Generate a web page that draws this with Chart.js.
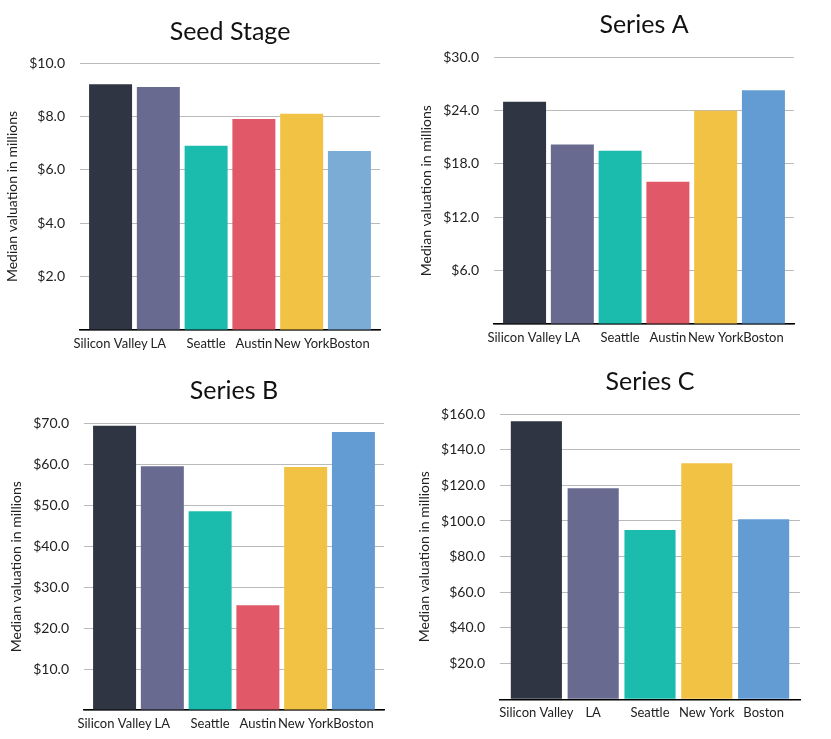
<!DOCTYPE html>
<html>
<head>
<meta charset="utf-8">
<script src="https://cdn.jsdelivr.net/npm/chart.js@4.4.0/dist/chart.umd.min.js"></script>
<style>
  html, body { margin: 0; padding: 0; background: #fff; }
  body { width: 831px; height: 739px; position: relative; overflow: hidden; }
  .box { position: absolute; }
</style>
</head>
<body>
<div class="box" style="left:0;top:0;width:410px;height:360px"><canvas id="c1"></canvas></div>
<div class="box" style="left:410px;top:0;width:421px;height:360px"><canvas id="c2"></canvas></div>
<div class="box" style="left:0;top:360px;width:410px;height:379px"><canvas id="c3"></canvas></div>
<div class="box" style="left:410px;top:360px;width:421px;height:379px"><canvas id="c4"></canvas></div>
<script>
// ---- data ----
const seedCities = ["Silicon Valley", "LA", "Seattle", "Austin", "New York", "Boston"];
const seedValues = [9.2, 9.1, 6.9, 7.9, 8.1, 6.7];
const seedTicks = [2, 4, 6, 8, 10];

const seriesACities = ["Silicon Valley", "LA", "Seattle", "Austin", "New York", "Boston"];
const seriesAValues = [25.0, 20.2, 19.5, 16.0, 24.0, 26.3];
const seriesATicks = [6, 12, 18, 24, 30];

const seriesBCities = ["Silicon Valley", "LA", "Seattle", "Austin", "New York", "Boston"];
const seriesBValues = [69.4, 59.5, 48.5, 25.6, 59.3, 67.9];
const seriesBTicks = [10, 20, 30, 40, 50, 60, 70];

const seriesCCities = ["Silicon Valley", "LA", "Seattle", "New York", "Boston"];
const seriesCValues = [156, 118.4, 95, 132.4, 101];
const seriesCTicks = [20, 40, 60, 80, 100, 120, 140, 160];

// ---- styles ----
const cityColors = {
  "Silicon Valley": "#2f3542",
  "LA": "#686a8f",
  "Seattle": "#1bbcae",
  "Austin": "#e15968",
  "New York": "#f2c244",
  "Boston": "#629cd3"
};
const FONT = "Lato, 'Open Sans', sans-serif";

function makeChart(id, title, cities, values, yTicks, opts) {
  const colors = cities.map(c => (opts.bostonColor && c === "Boston") ? opts.bostonColor : cityColors[c]);
  const yMax = yTicks[yTicks.length - 1];
  return new Chart(document.getElementById(id), {
    type: 'bar',
    data: {
      datasets: [{
        data: values.map((v, i) => ({ x: i, y: v })),
        backgroundColor: colors,
        borderWidth: 0,
        barPercentage: 0.9,
        categoryPercentage: 1.0
      }]
    },
    options: {
      responsive: true,
      maintainAspectRatio: false,
      animation: false,
      devicePixelRatio: 1,
      layout: { padding: { left: 0, right: opts.padRight, top: 0, bottom: opts.padBottom } },
      plugins: {
        legend: { display: false },
        tooltip: { enabled: false },
        title: {
          display: true,
          fullSize: false,
          text: title,
          color: '#111',
          font: { family: FONT, size: 25, weight: 'normal', lineHeight: 1.2 },
          padding: { top: opts.titleTop, bottom: opts.titleBottom }
        }
      },
      scales: {
        x: {
          type: 'linear',
          offset: false,
          min: -0.64,
          max: cities.length - 1 + 0.64,
          afterBuildTicks: (scale) => { scale.ticks = cities.map((c, i) => ({ value: i })); },
          afterFit: (scale) => { scale.height = opts.xHeight; },
          grid: { display: false, drawTicks: false, offset: false },
          border: { display: true, color: '#000', width: 1.5 },
          ticks: {
            autoSkip: false,
            maxRotation: 0,
            padding: 6,
            color: '#222',
            font: { family: FONT, size: 13 },
            callback: (v) => cities[v] !== undefined ? cities[v] : ''
          }
        },
        y: {
          type: 'linear',
          min: 0,
          max: yMax,
          afterBuildTicks: (scale) => { scale.ticks = [0].concat(yTicks).map(v => ({ value: v })); },
          afterFit: (scale) => { scale.width = opts.yWidth; },
          border: { display: false },
          grid: { color: '#bababa', lineWidth: 1, drawTicks: false },
          ticks: {
            padding: opts.tickPad,
            color: '#222',
            font: { family: FONT, size: 14 },
            callback: (v) => v === 0 ? '' : '$' + Number(v).toFixed(1)
          },
          title: {
            display: true,
            text: 'Median valuation in millions',
            color: '#222',
            font: { family: FONT, size: 14 },
            padding: { top: opts.yTitlePad, bottom: 4 }
          }
        }
      }
    }
  });
}

makeChart('c1', 'Seed Stage', seedCities, seedValues, seedTicks,
  { padRight: 30, padBottom: 9, titleTop: 17, titleBottom: 16, xHeight: 21, yWidth: 80, tickPad: 15, yTitlePad: 4, bostonColor: '#7aacd5' });
makeChart('c2', 'Series A', seriesACities, seriesAValues, seriesATicks,
  { padRight: 37, padBottom: 15, titleTop: 10, titleBottom: 17.3, xHeight: 21, yWidth: 84, tickPad: 15, yTitlePad: 8 });
makeChart('c3', 'Series B', seriesBCities, seriesBValues, seriesBTicks,
  { padRight: 26, padBottom: 8, titleTop: 15.7, titleBottom: 17.6, xHeight: 21, yWidth: 84, tickPad: 15, yTitlePad: 8 });
makeChart('c4', 'Series C', seriesCCities, seriesCValues, seriesCTicks,
  { padRight: 31, padBottom: 18.7, titleTop: 7, titleBottom: 17, xHeight: 21, yWidth: 90, tickPad: 15, yTitlePad: 6 });
</script>
</body>
</html>
